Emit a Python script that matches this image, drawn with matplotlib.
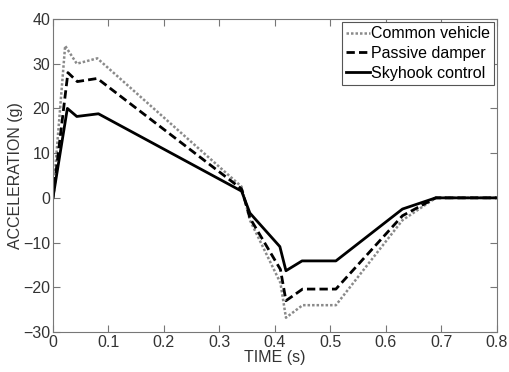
import matplotlib.pyplot as plt

plt.rcParams['font.family'] = ['Liberation Sans', 'DejaVu Sans']

# time (s) and acceleration (g)
t_common = [0, 0.022, 0.043, 0.08, 0.34, 0.355, 0.41, 0.42, 0.45, 0.51, 0.63, 0.69, 0.8]
a_common = [0, 34, 30, 31.2, 2.5, -5, -19, -26.8, -24, -24, -5, 0, 0]

t_passive = [0, 0.027, 0.044, 0.08, 0.34, 0.355, 0.41, 0.42, 0.45, 0.51, 0.63, 0.69, 0.8]
a_passive = [0, 28, 26, 26.7, 2, -4.5, -16, -23, -20.4, -20.4, -4, 0, 0]

t_sky = [0, 0.026, 0.043, 0.082, 0.34, 0.355, 0.409, 0.42, 0.449, 0.51, 0.63, 0.69, 0.8]
a_sky = [0, 20, 18.2, 18.8, 1.5, -3.4, -10.9, -16.3, -14.1, -14.1, -2.5, 0, 0]

labels = ['Common vehicle', 'Passive damper', 'Skyhook control']

fig = plt.figure(figsize=(5.09, 3.72), dpi=100)
ax = fig.add_axes([0.104, 0.1075, 0.872, 0.8415])

ax.plot(t_common, a_common, color='#8a8a8a', linestyle=(0, (1, 0.8)), linewidth=1.8, label=labels[0])
ax.plot(t_passive, a_passive, color='black', linestyle=(0, (3, 1.5)), linewidth=2, label=labels[1])
ax.plot(t_sky, a_sky, color='black', linestyle='-', linewidth=2, label=labels[2])

ax.set_xlim(0, 0.8)
ax.set_ylim(-30, 40)
ax.set_xticks([0, 0.1, 0.2, 0.3, 0.4, 0.5, 0.6, 0.7, 0.8])
ax.set_xticklabels(['0', '0.1', '0.2', '0.3', '0.4', '0.5', '0.6', '0.7', '0.8'])
ax.set_yticks(range(-30, 41, 10))
ax.tick_params(direction='in', top=True, right=True, labelsize=11.5, labelcolor='#333333',
               color='#777777', length=5, pad=2)
for s in ax.spines.values():
    s.set_color('#777777')
    s.set_linewidth(0.8)

ax.set_xlabel('TIME (s)', fontsize=11.5, color='#333333', labelpad=0.5)
ax.set_ylabel('ACCELERATION (g)', fontsize=11.5, color='#333333', labelpad=0)

leg = ax.legend(loc='upper right', fontsize=11.5, handlelength=1.5, handletextpad=0.05,
                borderpad=0.25, labelspacing=0.3, borderaxespad=0.2, fancybox=False, framealpha=1)
leg.get_frame().set_edgecolor('#555555')
leg.get_frame().set_linewidth(0.8)

fig.savefig('out.png', dpi=100)
